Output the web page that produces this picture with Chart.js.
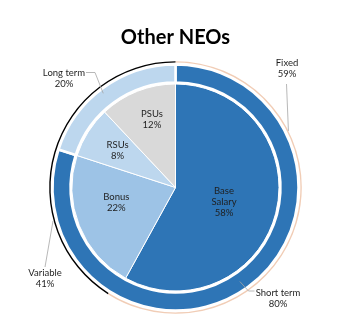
<!DOCTYPE html>
<html>
<head>
<meta charset="utf-8">
<script src="https://cdn.jsdelivr.net/npm/chart.js@4.4.1/dist/chart.umd.min.js"></script>
<style>
  html, body { margin: 0; padding: 0; background: #ffffff; }
  #wrap { width: 345px; height: 324px; position: relative; }
</style>
</head>
<body>
<div id="wrap"><canvas id="c" width="345" height="324"></canvas></div>
<script>
// ---- data ----
const mixCategories = ['Fixed', 'Variable'];
const mixValues = [59, 41];
const termCategories = ['Short term', 'Long term'];
const termValues = [80, 20];
const payCategories = ['Base Salary', 'Bonus', 'RSUs', 'PSUs'];
const payValues = [58, 22, 8, 12];
const chartTitle = 'Other NEOs';

// ---- styles ----
const DARK = '#2E75B6';
const MID = '#9DC3E6';
const LIGHT = '#BDD7EE';
const GREY = '#D9D9D9';
const FONT = 'Lato, "Open Sans", sans-serif';

// label placement (angle deg clockwise from top, radius px) for inner pie labels
const payLabelPlacement = [
  { angle: 106.6, r: 50.6, lines: ['Base', 'Salary'] },
  { angle: 256, r: 61, lines: ['Bonus'] },
  { angle: 302.4, r: 68.6, lines: ['RSUs'] },
  { angle: 341, r: 72.4, lines: ['PSUs'] }
];
// outer labels: anchor on ring (angle, r), text offset from centre, leader path points offset from centre
const outerLabelPlacement = {
  'Fixed':      { anchor: [63.4, 126.3], text: [111.5, -119.5], path: [[111, -103.5]] },
  'Variable':   { anchor: [254.7, 127], text: [-130.5, 90.5], path: [[-130.5, 79.5]] },
  'Short term': { anchor: [145.6, 114], text: [102.5, 110.5], path: [[73, 103.5], [79, 103.5]] },
  'Long term':  { anchor: [322.5, 118.7], text: [-111.5, -109], path: [[-80.5, -115], [-89.5, -115]] }
};

function polar(cx, cy, angleDeg, r) {
  const a = angleDeg * Math.PI / 180;
  return [cx + Math.sin(a) * r, cy - Math.cos(a) * r];
}

const labelPlugin = {
  id: 'labels',
  afterDraw(chart) {
    const ctx = chart.ctx;
    const meta = chart.getDatasetMeta(4);
    const cx = meta.data[0].x, cy = meta.data[0].y;
    ctx.save();
    ctx.font = '9.5px ' + FONT;
    ctx.fillStyle = '#1f1f1f';
    ctx.textAlign = 'center';
    ctx.textBaseline = 'middle';
    const lh = 11;
    // inner labels
    payCategories.forEach((c, i) => {
      const p = payLabelPlacement[i];
      const [x, y] = polar(cx, cy, p.angle, p.r);
      const lines = p.lines.concat([payValues[i] + '%']);
      const y0 = y - (lines.length - 1) * lh / 2;
      lines.forEach((t, k) => ctx.fillText(t, x, y0 + k * lh));
    });
    // outer labels
    const outer = [];
    mixCategories.forEach((c, i) => outer.push([c, mixValues[i]]));
    termCategories.forEach((c, i) => outer.push([c, termValues[i]]));
    outer.forEach(([name, val]) => {
      const p = outerLabelPlacement[name];
      const [ax, ay] = polar(cx, cy, p.anchor[0], p.anchor[1]);
      ctx.strokeStyle = '#A6A6A6';
      ctx.lineWidth = 0.8;
      ctx.beginPath();
      ctx.moveTo(ax, ay);
      p.path.forEach(pt => ctx.lineTo(cx + pt[0], cy + pt[1]));
      ctx.stroke();
      const tx = cx + p.text[0], ty = cy + p.text[1];
      ctx.fillText(name, tx, ty - lh / 2);
      ctx.fillText(val + '%', tx, ty + lh / 2);
    });
    ctx.restore();
  }
};

const spacer = (w) => ({
  data: [1], backgroundColor: 'rgba(0,0,0,0)', borderWidth: 0, weight: w, hoverOffset: 0
});

new Chart(document.getElementById('c'), {
  type: 'doughnut',
  data: {
    labels: payCategories,
    datasets: [
      { label: 'Mix', data: mixValues, backgroundColor: ['#F1CDB6', '#000000'], borderWidth: 0, weight: 1.4 },
      spacer(1.9),
      { label: 'Term', data: termValues, backgroundColor: [DARK, LIGHT], borderColor: '#ffffff', borderWidth: 2.5, weight: 18 },
      spacer(1.5),
      { label: 'Pay', data: payValues, backgroundColor: [DARK, MID, LIGHT, GREY], borderColor: '#ffffff', borderWidth: 1, weight: 103.5 }
    ]
  },
  options: {
    responsive: false,
    animation: false,
    cutout: 0,
    radius: 126.3,
    layout: { padding: { left: 6, right: 0, top: 0, bottom: 0 } },
    plugins: {
      legend: { display: false },
      tooltip: { enabled: false },
      title: {
        display: true,
        text: chartTitle,
        color: '#000000',
        font: { family: FONT, size: 20, weight: 'bold' },
        padding: { top: 26, bottom: 1 }
      }
    }
  },
  plugins: [labelPlugin]
});
</script>
</body>
</html>
